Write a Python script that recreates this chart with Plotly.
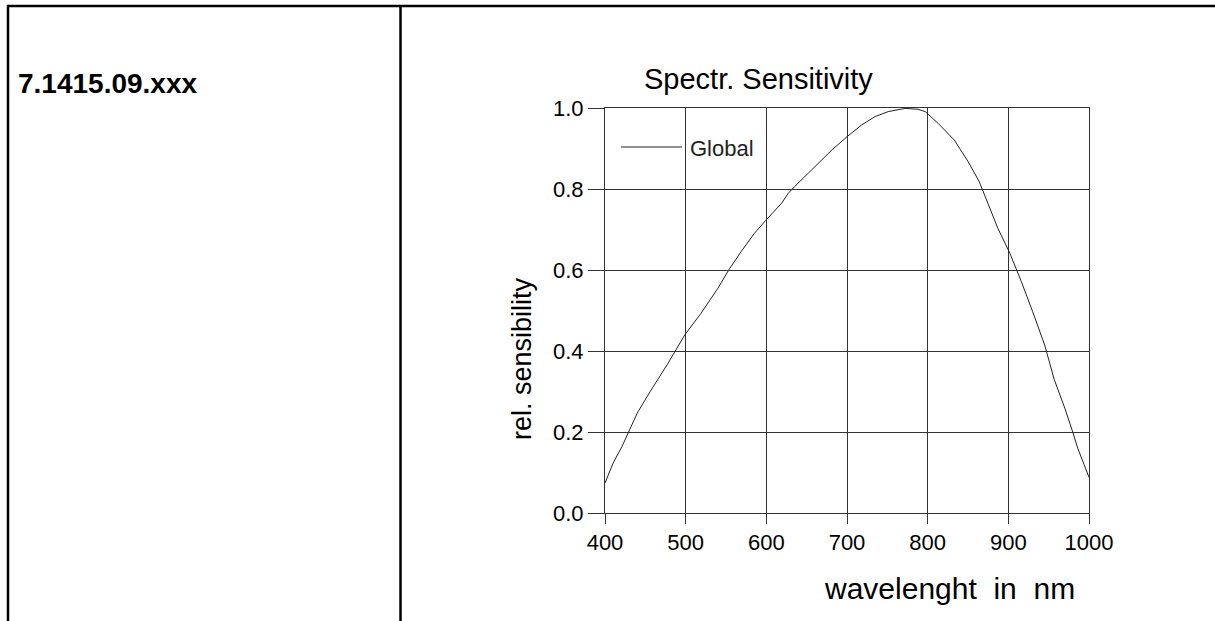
import plotly.graph_objects as go

# ---- data ----
wavelength_nm = [400, 410, 421, 429, 440, 456, 477, 499, 519, 540, 554, 569, 585, 599,
                 619, 627, 635, 652, 669, 681, 700, 718, 735, 751, 772, 788, 797, 813,
                 833, 850, 864, 875, 887, 902, 916, 930, 945, 957, 970, 980, 986, 994, 1000]
rel_sensitivity = [0.074, 0.123, 0.164, 0.200, 0.247, 0.300, 0.366, 0.440, 0.493, 0.555,
                   0.602, 0.646, 0.690, 0.722, 0.765, 0.789, 0.806, 0.839, 0.872, 0.896,
                   0.929, 0.958, 0.979, 0.991, 0.999, 0.997, 0.991, 0.962, 0.921, 0.868,
                   0.818, 0.761, 0.703, 0.641, 0.572, 0.498, 0.415, 0.329, 0.259, 0.199,
                   0.160, 0.119, 0.088]
x_ticks = [400, 500, 600, 700, 800, 900, 1000]
y_ticks = [0.0, 0.2, 0.4, 0.6, 0.8, 1.0]
y_tick_labels = ["0.0", "0.2", "0.4", "0.6", "0.8", "1.0"]
series_name = "Global"
chart_title = "Spectr. Sensitivity"
x_title = "wavelenght  in  nm"
y_title = "rel. sensibility"
part_number = "7.1415.09.xxx"

W, H = 1215, 621
FONT = "Arial, Liberation Sans, sans-serif"
GRID = "#333333"


def px(x):
    return x / W


def py(y):
    return 1 - y / H


fig = go.Figure()
fig.add_trace(go.Scatter(
    x=wavelength_nm, y=rel_sensitivity, mode="lines", name=series_name,
    line=dict(color="#222222", width=1), showlegend=False, hoverinfo="skip",
))

fig.update_layout(
    width=W, height=H,
    margin=dict(l=0, r=0, t=0, b=0),
    paper_bgcolor="white", plot_bgcolor="white",
    font=dict(family=FONT, color="black"),
    xaxis=dict(
        domain=[px(605), px(1089)], range=[400, 1000],
        tickvals=x_ticks, ticktext=[str(v) for v in x_ticks],
        showgrid=True, gridcolor=GRID, gridwidth=1,
        showline=True, mirror=True, linecolor=GRID, linewidth=1,
        ticks="outside", ticklen=10, tickcolor=GRID, tickwidth=1,
        tickfont=dict(size=22, family=FONT, color="black"),
        zeroline=False, automargin=False, fixedrange=True,
    ),
    yaxis=dict(
        domain=[py(513), py(108)], range=[0, 1],
        tickvals=y_ticks, ticktext=y_tick_labels,
        showgrid=True, gridcolor=GRID, gridwidth=1,
        showline=True, mirror=True, linecolor=GRID, linewidth=1,
        ticks="outside", ticklen=16, tickcolor=GRID, tickwidth=1,
        tickfont=dict(size=22, family=FONT, color="black"),
        zeroline=False, automargin=False, fixedrange=True,
    ),
)

annotations = [
    dict(text=chart_title, x=px(758), y=py(79), xref="paper", yref="paper",
         xanchor="center", yanchor="middle", showarrow=False,
         font=dict(size=29, family=FONT, color="black")),
    dict(text=x_title, x=px(949), y=py(588), xref="paper", yref="paper",
         xanchor="center", yanchor="middle", showarrow=False,
         font=dict(size=30, family=FONT, color="black")),
    dict(text=y_title, x=px(522), y=py(359), xref="paper", yref="paper",
         xanchor="center", yanchor="middle", showarrow=False, textangle=-90,
         font=dict(size=27, family=FONT, color="black")),
    dict(text="<b>" + part_number + "</b>", x=px(16), y=py(83), xref="paper", yref="paper",
         xanchor="left", yanchor="middle", showarrow=False,
         font=dict(size=28, family=FONT, color="black")),
    dict(text=series_name, x=px(688), y=py(149), xref="paper", yref="paper",
         xanchor="left", yanchor="middle", showarrow=False,
         font=dict(size=22, family=FONT, color="#222222")),
]
fig.update_layout(annotations=annotations)

shapes = [
    # legend sample line
    dict(type="line", xref="paper", yref="paper", x0=px(621), x1=px(682), y0=py(147), y1=py(147),
         line=dict(color="#222222", width=1)),
    # table frame
    dict(type="line", xref="paper", yref="paper", x0=px(7), x1=px(1215), y0=py(6), y1=py(6),
         line=dict(color="black", width=2.5)),
    dict(type="line", xref="paper", yref="paper", x0=px(8), x1=px(8), y0=py(5), y1=py(621),
         line=dict(color="black", width=2.5)),
    dict(type="line", xref="paper", yref="paper", x0=px(400.5), x1=px(400.5), y0=py(5), y1=py(621),
         line=dict(color="black", width=2.5)),
]
fig.update_layout(shapes=shapes)

fig.write_html("out.html", config={"displayModeBar": False},
               post_script="document.body.style.margin='0';")
